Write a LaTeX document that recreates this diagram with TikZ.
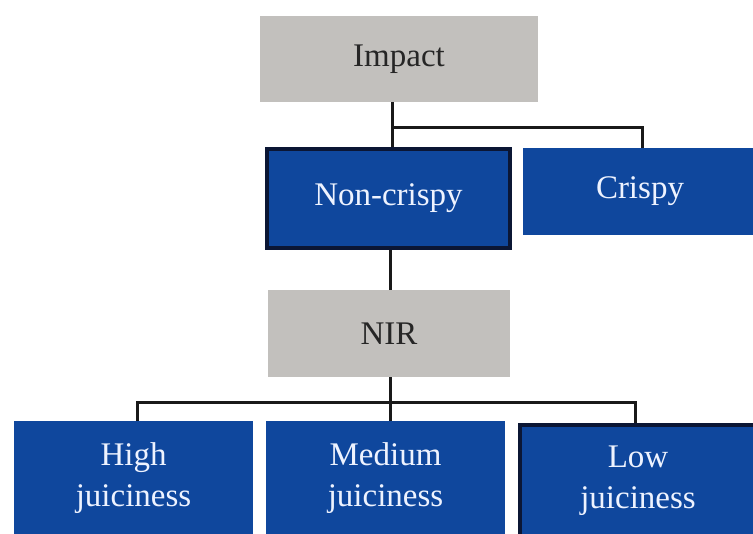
\documentclass[tikz,border=0pt]{standalone}
\usepackage{fontspec}
\setmainfont{Liberation Serif}
\definecolor{boxblue}{HTML}{0F479D}
\definecolor{boxgray}{HTML}{C2C0BD}
\definecolor{darkedge}{HTML}{0B1634}
\definecolor{paletext}{HTML}{EEF3FF}
\tikzset{
  base/.style={rectangle, inner sep=0pt, align=center, font=\fontsize{33}{41}\selectfont},
  graybox/.style={base, fill=boxgray, text=black!85},
  bluebox/.style={base, fill=boxblue, text=paletext},
  edgebox/.style={bluebox, draw=darkedge, line width=4pt},
  link/.style={draw=black!90, line width=3pt}
}
\begin{document}
\begin{tikzpicture}[x=1pt,y=-1pt]
\useasboundingbox[fill=white] (0,0) rectangle (753,534);
\node[graybox, minimum width=278pt, minimum height=86pt] (impact) at (399,59) {Impact};
\node[edgebox, minimum width=243pt, minimum height=99pt] (noncrispy) at (388.5,198.5) {Non-crispy};
\node[bluebox, minimum width=234pt, minimum height=87pt] (crispy) at (640,191.5) {Crispy};
\node[graybox, minimum width=242pt, minimum height=87pt] (nir) at (389,333.5) {NIR};
\node[bluebox, minimum width=239pt, minimum height=114pt] (high) at (133.5,478) {High\\juiciness};
\node[bluebox, minimum width=239pt, minimum height=114pt] (medium) at (385.5,478) {Medium\\juiciness};
\node[edgebox, minimum width=236pt, minimum height=112pt] (low) at (638,481) {Low\\juiciness};
\coordinate (top1) at (392,128);
\coordinate (top2) at (642,128);
\coordinate (mid) at (390,403);
\coordinate (lft) at (137,403);
\coordinate (rgt) at (635,403);
% connectors
\draw[link] (impact.south -| top1) -- (noncrispy.north -| top1);
\draw[link] (top1) -- (top2) -- (crispy.north -| top2);
\draw[link] (noncrispy.south -| mid) -- (nir.north -| mid);
\draw[link] (nir.south -| mid) -- (medium.north -| mid);
\draw[link] (high.north -| lft) -- (lft) -- (rgt) -- (low.north -| rgt);
\end{tikzpicture}
\end{document}
